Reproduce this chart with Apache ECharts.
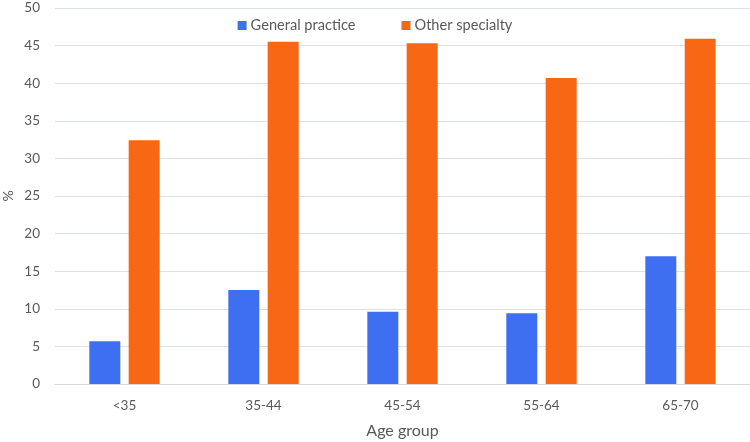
<!DOCTYPE html>
<html><head><meta charset="utf-8">
<script src="https://cdn.jsdelivr.net/npm/echarts@6/dist/echarts.min.js"></script>
<style>html,body{margin:0;padding:0;background:#fff}#c{width:750px;height:442px}</style>
</head><body><div id="c"></div>
<script>
var categories = ['<35', '35-44', '45-54', '55-64', '65-70'];
var generalPractice = [5.7, 12.5, 9.6, 9.4, 17.0];
var otherSpecialty = [32.4, 45.5, 45.3, 40.7, 45.9];
var seriesNames = ['General practice', 'Other specialty'];
var yTicks = [0, 50, 5];

var font = 'Lato, "Open Sans", sans-serif';
var chart = echarts.init(document.getElementById('c'));
chart.setOption({
  animation: false,
  textStyle: {fontFamily: font},
  legend: {
    top: 13, left: 'center', itemWidth: 9, itemHeight: 9, itemGap: 46,
    icon: 'rect',
    textStyle: {fontFamily: font, fontSize: 14.6, color: '#595959', padding: [0,0,0,-1]},
    data: seriesNames
  },
  grid: {left: 55, right: 0, top: 8, bottom: 58, outerBoundsMode: 'none', containLabel: false},
  xAxis: {
    type: 'category', data: categories,
    name: 'Age group', nameLocation: 'middle', nameGap: 39,
    nameTextStyle: {fontFamily: font, fontSize: 16, color: '#595959'},
    axisLine: {lineStyle: {color: '#d9d9d9'}},
    axisTick: {show: false},
    axisLabel: {fontFamily: font, fontSize: 13.5, color: '#595959', margin: 15}
  },
  yAxis: {
    type: 'value', min: yTicks[0], max: yTicks[1], interval: yTicks[2],
    name: '%', nameLocation: 'middle', nameGap: 40, nameRotate: 90, nameMoveOverlap: false,
    nameTextStyle: {fontFamily: font, fontSize: 14, color: '#595959'},
    axisLine: {show: false}, axisTick: {show: false},
    splitLine: {lineStyle: {color: '#dde3e3'}},
    axisLabel: {fontFamily: font, fontSize: 13.5, color: '#595959', margin: 15}
  },
  series: [
    {name: seriesNames[0], type: 'bar', data: generalPractice, barWidth: 31, barGap: '27%',
     itemStyle: {color: '#3d6ff0'}},
    {name: seriesNames[1], type: 'bar', data: otherSpecialty, barWidth: 31,
     itemStyle: {color: '#f86713'}}
  ]
});
</script></body></html>
